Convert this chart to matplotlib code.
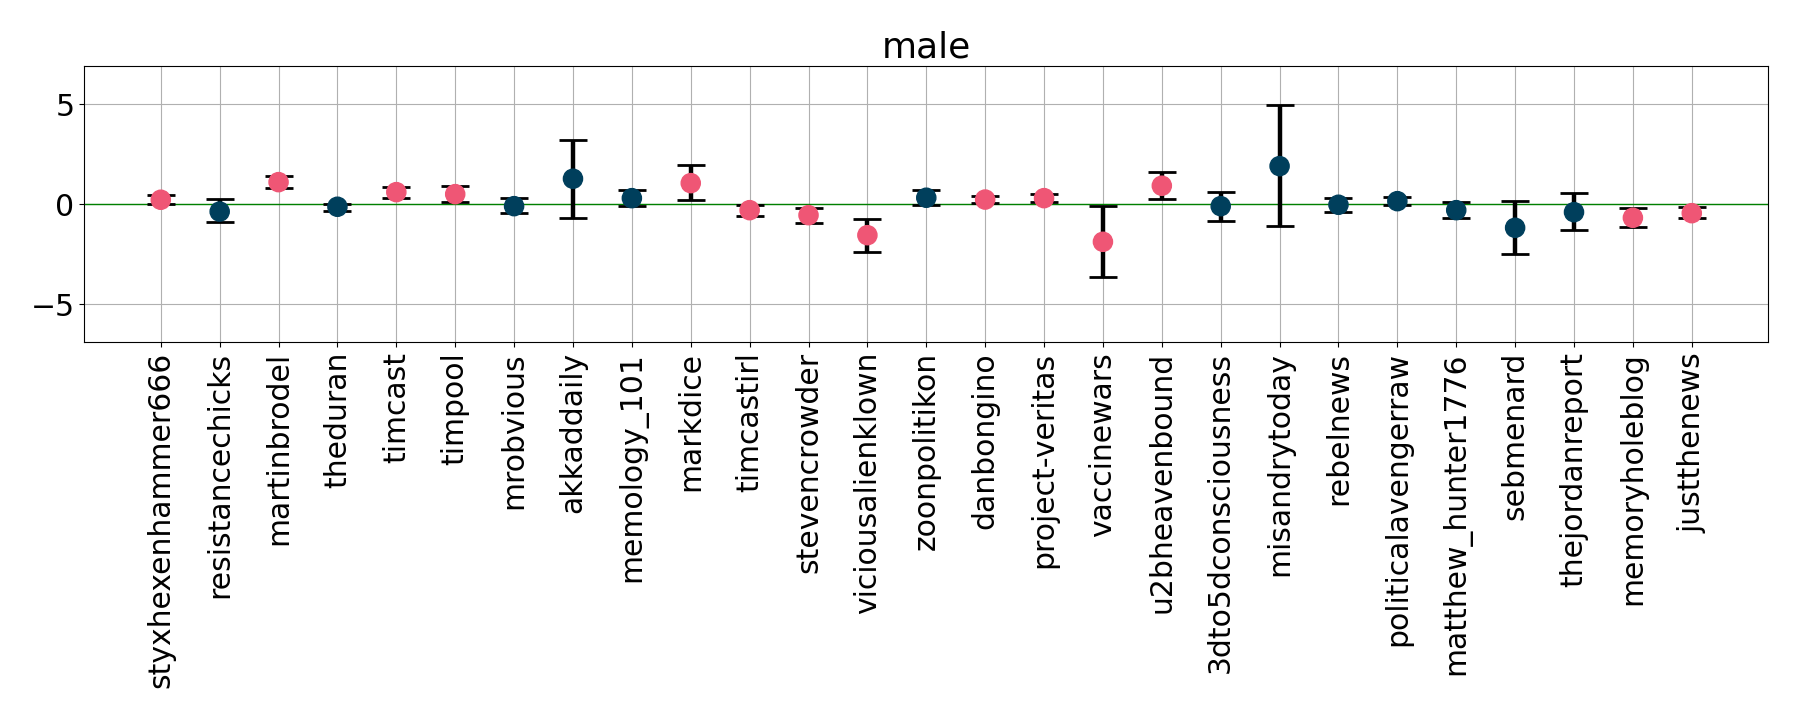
import numpy as np
import matplotlib
matplotlib.use("Agg")
import matplotlib.pyplot as plt

# =========================
# DADOS
# =========================
canais = ["styxhexenhammer666", "resistancechicks", "martinbrodel", "theduran",
          "timcast", "timpool", "mrobvious", "akkaddaily", "memology_101",
          "markdice", "timcastirl", "stevencrowder", "viciousalienklown",
          "zoonpolitikon", "danbongino", "project-veritas", "vaccinewars",
          "u2bheavenbound", "3dto5dconsciousness", "misandrytoday", "rebelnews",
          "politicalavengerraw", "matthew_hunter1776", "sebmenard",
          "thejordanreport", "memoryholeblog", "justthenews"]

valor = [0.22, -0.37, 1.10, -0.13, 0.60, 0.50, -0.10, 1.27, 0.30, 1.05,
         -0.30, -0.55, -1.55, 0.32, 0.23, 0.30, -1.88, 0.92, -0.10, 1.90,
         -0.03, 0.15, -0.30, -1.18, -0.40, -0.68, -0.45]
topo = [0.48, 0.28, 1.43, 0.03, 0.88, 0.93, 0.33, 3.22, 0.73, 1.97,
        -0.03, -0.17, -0.73, 0.73, 0.43, 0.53, -0.07, 1.63, 0.62, 4.93,
        0.33, 0.37, 0.12, 0.18, 0.58, -0.17, -0.12]
base = [0.03, -0.88, 0.83, -0.33, 0.33, 0.12, -0.43, -0.68, -0.08, 0.22,
        -0.57, -0.93, -2.37, -0.05, 0.07, 0.12, -3.63, 0.28, -0.83, -1.07,
        -0.38, -0.03, -0.68, -2.47, -1.28, -1.12, -0.67]
# p = rosa, a = azul
grupo = ["p", "a", "p", "a", "p", "p", "a", "a", "a", "p", "p", "p", "p",
         "a", "p", "p", "p", "p", "a", "a", "a", "a", "a", "a", "a", "p", "p"]

cores = {"p": "#ef5675", "a": "#003f5c"}

# =========================
# GRAFICO
# =========================
x = np.arange(len(canais))
v = np.array(valor)
yerr = [v - np.array(base), np.array(topo) - v]

fig = plt.figure(figsize=(18, 7.2), dpi=100)
ax = fig.add_axes([0.0468, 0.5246, 0.9356, 0.3837])

ax.grid(True, color="#b0b0b0", linewidth=0.8)
ax.axhline(0, color="green", linewidth=1, zorder=2)
ax.errorbar(x, v, yerr=yerr, fmt="none", ecolor="black", elinewidth=3.2,
            capsize=10, capthick=2, zorder=3)
ax.scatter(x, v, s=190, c=[cores[g] for g in grupo], zorder=4)

ax.set_xlim(-1.3, len(canais) - 1 + 1.3)
ax.set_ylim(-6.9, 6.9)
ax.set_yticks([-5, 0, 5])
ax.set_xticks(x)
ax.set_xticklabels(canais, rotation=90, fontsize=21.5)
ax.tick_params(axis="y", labelsize=21.5)
ax.set_title("male", fontsize=26)

fig.savefig("out.png", dpi=100)
